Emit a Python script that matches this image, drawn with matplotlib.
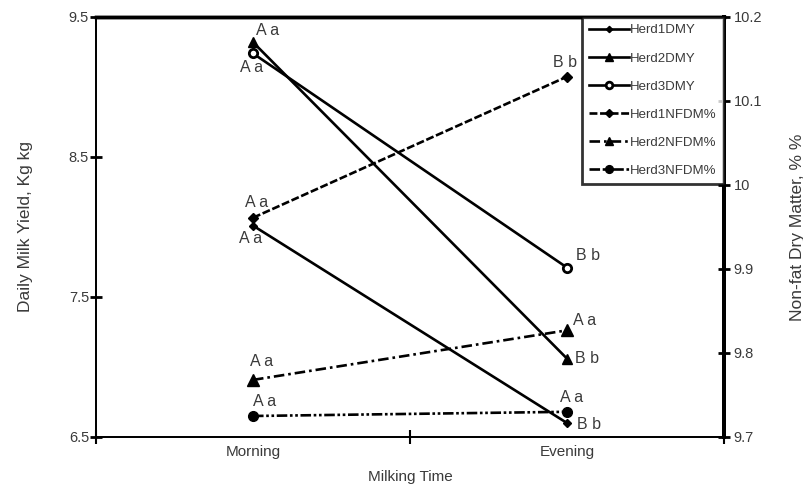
import matplotlib.pyplot as plt

plt.rcParams['font.family'] = ['Liberation Sans', 'DejaVu Sans']

times = ['Morning', 'Evening']

# daily milk yield (left axis, kg)
herd1_dmy = [8.01, 6.60]
herd2_dmy = [9.32, 7.06]
herd3_dmy = [9.24, 7.71]

# non-fat dry matter (right axis, %)
herd1_nfdm = [9.961, 10.129]
herd2_nfdm = [9.768, 9.827]
herd3_nfdm = [9.725, 9.730]

# significance letters per point
herd1_dmy_lbl = ['A a', 'B b']
herd2_dmy_lbl = ['A a', 'B b']
herd3_dmy_lbl = ['A a', 'B b']
herd1_nfdm_lbl = ['A a', 'B b']
herd2_nfdm_lbl = ['A a', 'A a']
herd3_nfdm_lbl = ['A a', 'A a']

txt = '#3a3a3a'
xpos = [0.5, 1.5]

fig = plt.figure(figsize=(8.04, 4.92), dpi=100)
ax = fig.add_axes([96 / 804, 55 / 492, 628 / 804, 420 / 492])
ax2 = ax.twinx()

lw = 1.9
l1, = ax.plot(xpos, herd1_dmy, '-', color='k', lw=lw, marker='D', ms=4)
l2, = ax.plot(xpos, herd2_dmy, '-', color='k', lw=lw, marker='^', ms=7)
l3, = ax.plot(xpos, herd3_dmy, '-', color='k', lw=lw, marker='o', ms=6,
              mfc='white', mew=2)
l4, = ax2.plot(xpos, herd1_nfdm, color='k', lw=lw, ls=(0, (3, 1)),
               marker='D', ms=5)
l5, = ax2.plot(xpos, herd2_nfdm, color='k', lw=lw, ls=(0, (4, 1.5, 1, 1.5)),
               marker='^', ms=8)
l6, = ax2.plot(xpos, herd3_nfdm, color='k', lw=lw,
               ls=(0, (4, 1, 1, 1, 1, 1)), marker='o', ms=7)

# letters next to each point (offsets in pixels)
def letters(axis, vals, lbls, offs):
    for x, v, s, (dx, dy) in zip(xpos, vals, lbls, offs):
        axis.annotate(s, (x, v), xytext=(dx, dy), textcoords='offset pixels',
                      ha='left', va='center', fontsize=11.5, color=txt)

letters(ax, herd1_dmy, herd1_dmy_lbl, [(-14, -13), (10, -2)])
letters(ax, herd2_dmy, herd2_dmy_lbl, [(3, 12), (8, 0)])
letters(ax, herd3_dmy, herd3_dmy_lbl, [(-13, -14), (9, 12)])
letters(ax2, herd1_nfdm, herd1_nfdm_lbl, [(-8, 15), (-14, 14)])
letters(ax2, herd2_nfdm, herd2_nfdm_lbl, [(-3, 18), (6, 10)])
letters(ax2, herd3_nfdm, herd3_nfdm_lbl, [(0, 14), (-7, 14)])

ax.set_xlim(0, 2)
ax.set_ylim(6.5, 9.5)
ax2.set_ylim(9.7, 10.2)
ax.set_yticks([6.5, 7.5, 8.5, 9.5])
ax.set_yticklabels(['6.5', '7.5', '8.5', '9.5'])
ax2.set_yticks([9.7, 9.8, 9.9, 10.0, 10.1, 10.2])
ax2.set_yticklabels(['9.7', '9.8', '9.9', '10', '10.1', '10.2'])

ax.set_xticks([0, 1, 2])
ax.set_xticklabels([])
ax.set_xticks(xpos, minor=True)
ax.set_xticklabels(times, minor=True)
ax.tick_params(axis='x', which='minor', length=0, pad=6, labelsize=11, labelcolor=txt)
ax.tick_params(axis='x', which='major', direction='inout', length=10, width=1.5)
ax.tick_params(axis='y', direction='inout', length=8, width=2, labelsize=10.5,
               labelcolor=txt, pad=1)
ax2.tick_params(axis='y', direction='inout', length=8, width=2, labelsize=10.5,
                labelcolor=txt, pad=3)

for a in (ax, ax2):
    a.spines['left'].set_linewidth(1.3)
    a.spines['bottom'].set_linewidth(1.3)
    a.spines['top'].set_linewidth(2.5)
    a.spines['right'].set_linewidth(2.8)

ax.set_xlabel('Milking Time', fontsize=11, color=txt, labelpad=8)
ax.set_ylabel('Daily Milk Yield, Kg kg', fontsize=12.5, color=txt, labelpad=26)
ax2.set_ylabel('Non-fat Dry Matter, % %', fontsize=12.5, color=txt, labelpad=20)

handles = [l1, l2, l3, l4, l5, l6]
names = ['Herd1DMY', 'Herd2DMY', 'Herd3DMY', 'Herd1NFDM%', 'Herd2NFDM%', 'Herd3NFDM%']
leg = ax2.legend(handles, names, loc='upper right', bbox_to_anchor=(1, 1),
                 borderaxespad=0, fontsize=9.5, frameon=True, fancybox=False,
                 handlelength=3.0, handletextpad=0.1, labelspacing=1.2,
                 borderpad=0.55, markerscale=0.8, labelcolor=txt)
leg.get_frame().set_edgecolor('k')
leg.get_frame().set_linewidth(2)

fig.savefig('out.png', dpi=100)
